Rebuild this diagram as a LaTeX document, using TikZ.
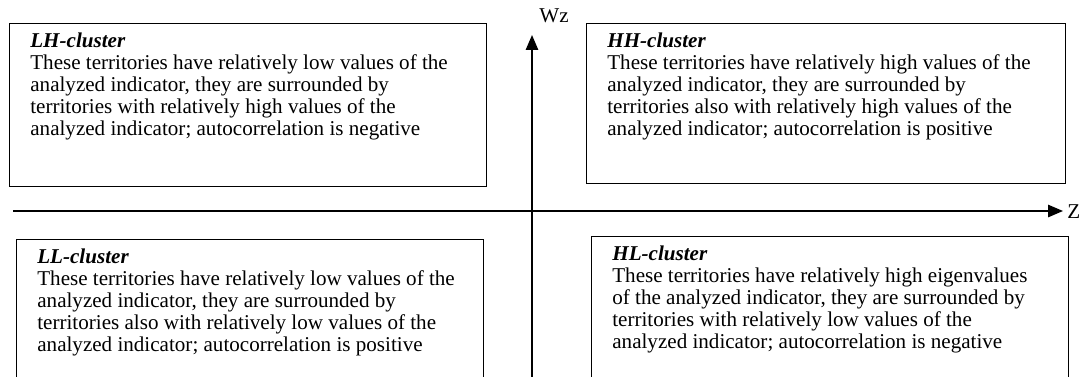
\documentclass[tikz,border=0pt]{standalone}
\usepackage{fontspec}
\setmainfont{Liberation Serif}
\usetikzlibrary{arrows.meta}

\tikzset{
  quad/.style={draw, line width=0.6pt, anchor=north west, inner sep=0pt},
  quadtext/.style={anchor=north west, inner sep=0pt, align=left,
    font=\fontsize{12}{12.5}\selectfont},
  axis/.style={line width=1pt, -{Triangle[length=8.5pt,width=7pt]}},
  axislabel/.style={inner sep=0pt, font=\fontsize{12}{12.5}\selectfont},
}

\begin{document}
\begin{tikzpicture}[x=0.02cm,y=-0.02cm]
  \path[use as bounding box, clip] (0,0) rectangle (1084,376);

  % Axes
  \coordinate (zstart) at (13,211);
  \coordinate (zend) at (1063,211);
  \coordinate (wstart) at (532,380);
  \coordinate (wend) at (532,35);
  \draw[axis] (zstart) -- (zend);
  \draw[axis] (wstart) -- (wend);
  \node[axislabel, anchor=west] (zlabel) at (1067,212) {Z};
  \node[axislabel, anchor=base west] (wlabel) at (539,22) {Wz};

  % Quadrant boxes
  \node[quad, minimum width=9.54cm, minimum height=3.26cm] (lh) at (9,23) {};
  \node[quad, minimum width=9.58cm, minimum height=3.2cm] (hh) at (586,23) {};
  \node[quad, minimum width=9.34cm, minimum height=3.02cm] (ll) at (16,239) {};
  \node[quad, minimum width=9.54cm, minimum height=3.08cm] (hl) at (591,236) {};

  % Texts
  \node[quadtext] (lhtext) at ([shift={(21,10)}]lh.north west)
    {\textbf{\textit{LH-cluster}}\\
     These territories have relatively low values of the\\
     analyzed indicator, they are surrounded by\\
     territories with relatively high values of the\\
     analyzed indicator; autocorrelation is negative};
  \node[quadtext] (hhtext) at ([shift={(21,10)}]hh.north west)
    {\textbf{\textit{HH-cluster}}\\
     These territories have relatively high values of the\\
     analyzed indicator, they are surrounded by\\
     territories also with relatively high values of the\\
     analyzed indicator; autocorrelation is positive};
  \node[quadtext] (lltext) at ([shift={(21,10)}]ll.north west)
    {\textbf{\textit{LL-cluster}}\\
     These territories have relatively low values of the\\
     analyzed indicator, they are surrounded by\\
     territories also with relatively low values of the\\
     analyzed indicator; autocorrelation is positive};
  \node[quadtext] (hltext) at ([shift={(21,10)}]hl.north west)
    {\textbf{\textit{HL-cluster}}\\
     These territories have relatively high eigenvalues\\
     of the analyzed indicator, they are surrounded by\\
     territories with relatively low values of the\\
     analyzed indicator; autocorrelation is negative};
\end{tikzpicture}
\end{document}
